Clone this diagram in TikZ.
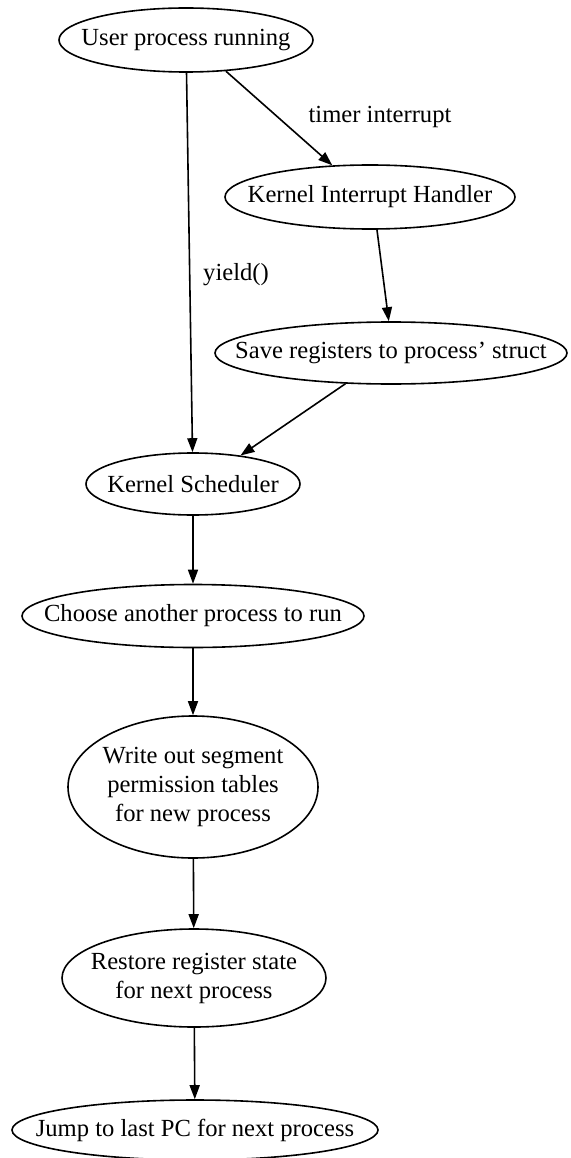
\documentclass[tikz,border=0pt]{standalone}
\usepackage{fontspec}
\setmainfont{Liberation Serif}
\usetikzlibrary{shapes.geometric,arrows.meta}
\newcommand\zw[1]{\makebox[0pt]{#1}}
\begin{document}
\begin{tikzpicture}[x=1pt,y=-1pt,
  every node/.style={font=\fontsize{24.6}{29}\selectfont},
  st/.style={draw, ellipse, line width=1.6pt, inner sep=0pt, align=center},
  ed/.style={line width=1.6pt, -{Triangle[length=14pt,width=10pt]}},
  lbl/.style={inner sep=0pt}]
\useasboundingbox (0,0) rectangle (570,1158);
\node[st, minimum width=254pt, minimum height=64pt] (n1) at (186,40) {\zw{User process running}};
\node[st, minimum width=290pt, minimum height=64pt] (n2) at (370,197) {\zw{Kernel Interrupt Handler}};
\node[st, minimum width=352pt, minimum height=62pt] (n3) at (391,353) {\zw{Save registers to process’ struct}};
\node[st, minimum width=214pt, minimum height=62pt] (n4) at (193,484) {\zw{Kernel Scheduler}};
\node[st, minimum width=342pt, minimum height=63pt] (n5) at (193,616) {\zw{Choose another process to run}};
\node[st, minimum width=250pt, minimum height=142pt] (n6) at (193,787) {\zw{Write out segment}\\\zw{permission tables}\\\zw{for new process}};
\node[st, minimum width=264pt, minimum height=98pt] (n7) at (194,978) {\zw{Restore register state}\\\zw{for next process}};
\node[st, minimum width=366pt, minimum height=60pt] (n8) at (195,1130) {\zw{Jump to last PC for next process}};
\node[lbl] (l1) at (380,117) {timer interrupt};
\node[lbl] (l2) at (236,275) {yield()};
\draw[ed] (n1) -- (n4);
\draw[ed] (n1.-38) -- (n2.140);
\draw[ed] (n2.-78) -- (n3.94);
\draw[ed] (n3.-146) -- (n4.31);
\draw[ed] (n4) -- (n5);
\draw[ed] (n5) -- (n6);
\draw[ed] (n6) -- (n7);
\draw[ed] (n7) -- (n8);
\end{tikzpicture}
\end{document}
